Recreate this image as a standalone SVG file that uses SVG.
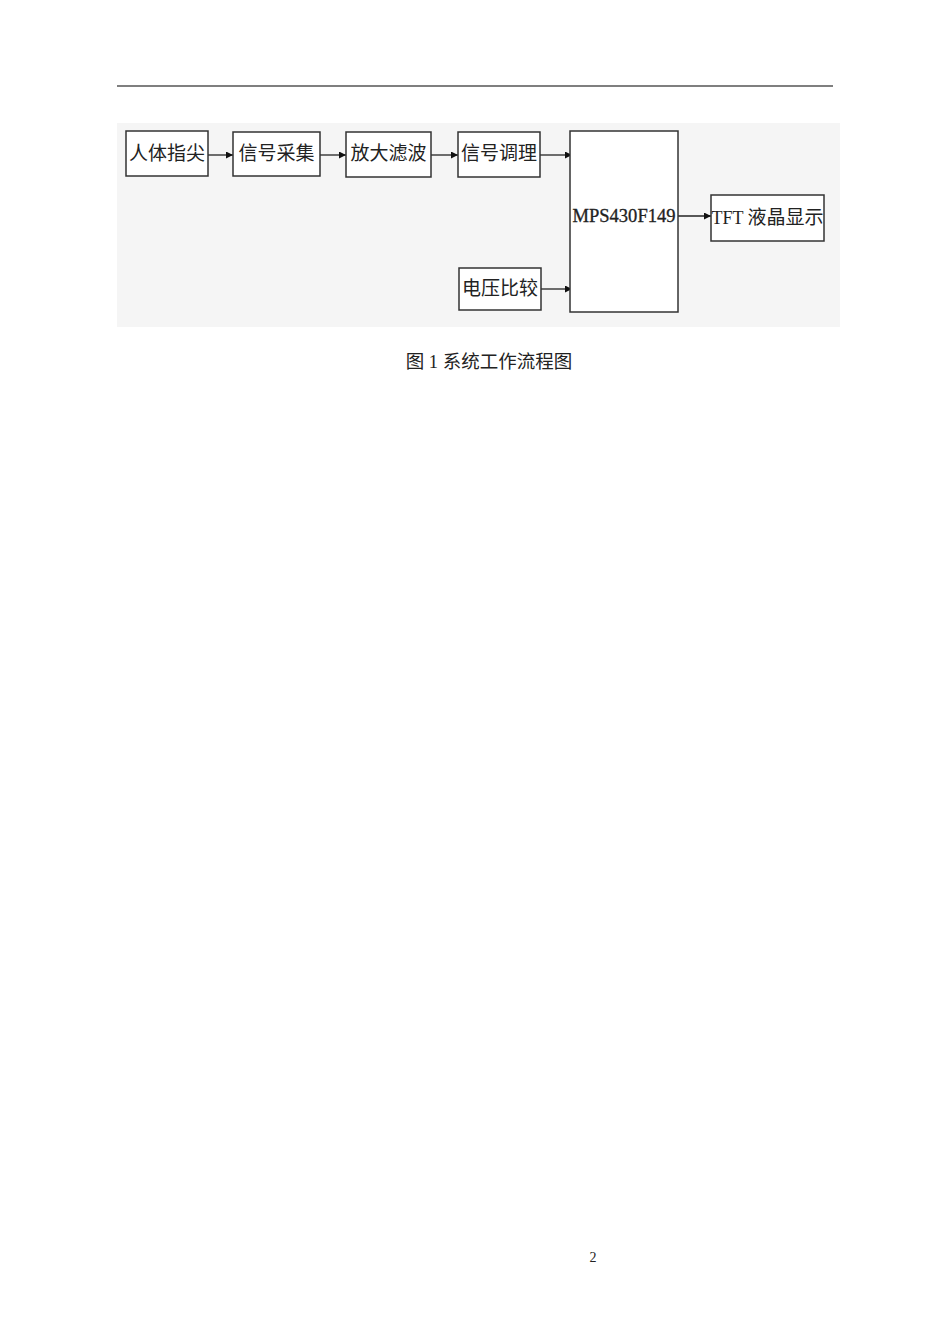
<svg xmlns="http://www.w3.org/2000/svg" width="950" height="1344" viewBox="0 0 950 1344">
<style>
.box{fill:#ffffff;stroke:#333333;stroke-width:1.5}
.lbl{font-family:"Noto Sans CJK SC","Noto Sans",sans-serif;font-size:19px;fill:#222222}
.ser{font-family:"Liberation Serif","Noto Sans CJK SC",serif;fill:#222222}
.con{stroke:#222222;stroke-width:1.3;fill:none;marker-end:url(#ah)}
</style>
<defs>
<marker id="ah" viewBox="0 0 10 10" refX="10" refY="5" markerWidth="9" markerHeight="7" orient="auto" markerUnits="userSpaceOnUse">
<path d="M0,0 L10,5 L0,10 Z" fill="#111111"/>
</marker>
</defs>
<rect width="950" height="1344" fill="#ffffff"/>
<line x1="117" y1="86" x2="833" y2="86" stroke="#000000" stroke-width="1.2"/>
<rect x="117" y="123" width="723" height="204" fill="#f5f5f5"/>
<g id="connectors">
<line class="con" x1="208" y1="155" x2="233" y2="155"/>
<line class="con" x1="320" y1="155" x2="346" y2="155"/>
<line class="con" x1="431" y1="155" x2="458" y2="155"/>
<line class="con" x1="540" y1="155" x2="572" y2="155"/>
<line class="con" x1="541" y1="289" x2="572" y2="289"/>
<line class="con" x1="678" y1="216" x2="711" y2="216"/>
</g>
<g id="n1"><rect class="box" x="126" y="131" width="82" height="45"/><text class="lbl" x="167" y="160" text-anchor="middle">人体指尖</text></g>
<g id="n2"><rect class="box" x="233" y="132" width="87" height="44"/><text class="lbl" x="276.5" y="160" text-anchor="middle">信号采集</text></g>
<g id="n3"><rect class="box" x="346" y="132" width="85" height="45"/><text class="lbl" x="388.5" y="160" text-anchor="middle">放大滤波</text></g>
<g id="n4"><rect class="box" x="458" y="132" width="82" height="45"/><text class="lbl" x="499" y="160" text-anchor="middle">信号调理</text></g>
<g id="n5"><rect class="box" x="459" y="268" width="82" height="42"/><text class="lbl" x="500" y="295" text-anchor="middle">电压比较</text></g>
<g id="n6"><rect class="box" x="570" y="131" width="108" height="181"/><text class="ser" x="624" y="222" font-size="18" text-anchor="middle" textLength="103" lengthAdjust="spacingAndGlyphs" stroke="#222222" stroke-width="0.3">MPS430F149</text></g>
<g id="n7"><rect class="box" x="711" y="195" width="113" height="46"/><text x="767.5" y="224" text-anchor="middle"><tspan class="ser" font-size="18">TFT </tspan><tspan class="lbl">液晶显示</tspan></text></g>
<text x="489" y="368" text-anchor="middle" font-family="Liberation Serif,Noto Sans CJK SC,serif" font-size="18.5" fill="#222222">图 1 系统工作流程图</text>
<text x="593" y="1262" text-anchor="middle" font-family="Liberation Serif,serif" font-size="14" fill="#222222">2</text>
</svg>
